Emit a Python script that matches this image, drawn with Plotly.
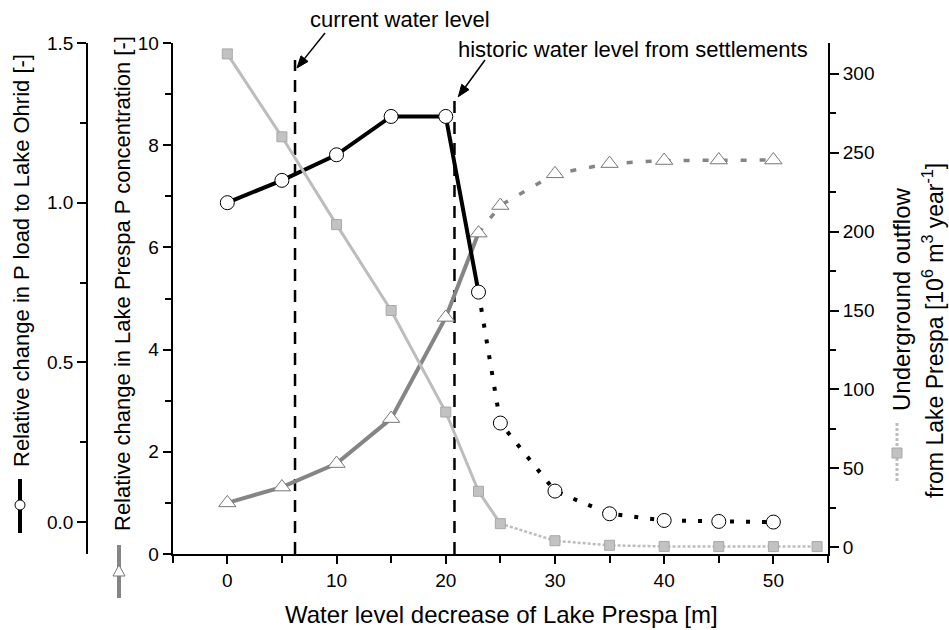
import math
import plotly.graph_objects as go

# ---------------- data ----------------
water_level = [0, 5, 10, 15, 20, 23, 25, 30, 35, 40, 45, 50]
p_load_ohrid = [1.00, 1.07, 1.15, 1.27, 1.27, 0.72, 0.31, 0.097, 0.026, 0.005, 0.002, 0.0]
prespa_p_conc = [1.00, 1.31, 1.77, 2.65, 4.63, 6.28, 6.82, 7.44, 7.64, 7.70, 7.71, 7.71]
water_level_outflow = [0, 5, 10, 15, 20, 23, 25, 30, 35, 40, 45, 50, 54]
underground_outflow = [312.5, 260, 204.4, 150, 85.7, 35.5, 15, 4.2, 1.3, 0.6, 0.5, 0.5, 0.5]

CURRENT_LEVEL = 6.2
HISTORIC_LEVEL = 20.8
SPLIT = 5          # index where lines switch to dotted (x = 23)
SPLIT_OUT = 6      # index for outflow series (x = 25)

FONT = "Liberation Sans, Arial, sans-serif"
TICKF = dict(family=FONT, size=19, color="black")
LEFT_TITLEF = dict(family=FONT, size=22, color="black")
BIG_TITLEF = dict(family=FONT, size=24, color="black")
RIGHT2_TITLEF = dict(family=FONT, size=23, color="black")
NOTEF = dict(family=FONT, size=22, color="black")

BLACK = "black"
MID_GRAY = "#858585"
LIGHT_GRAY = "#bdbdbd"

fig = go.Figure()

# ---- underground outflow (right axis) ----
fig.add_trace(go.Scatter(x=water_level_outflow[:SPLIT_OUT + 1], y=underground_outflow[:SPLIT_OUT + 1],
                         mode="lines", line=dict(color=LIGHT_GRAY, width=3), yaxis="y3", showlegend=False))
fig.add_trace(go.Scatter(x=water_level_outflow[SPLIT_OUT:], y=underground_outflow[SPLIT_OUT:],
                         mode="lines", line=dict(color=LIGHT_GRAY, width=2.5, dash="3px,2px"),
                         yaxis="y3", showlegend=False))
fig.add_trace(go.Scatter(x=water_level_outflow, y=underground_outflow, mode="markers",
                         marker=dict(symbol="square", size=10, color="#c2c2c2",
                                     line=dict(color="#a8a8a8", width=1)),
                         yaxis="y3", showlegend=False))

# ---- Prespa P concentration (inner left axis) ----
fig.add_trace(go.Scatter(x=water_level[:SPLIT + 1], y=prespa_p_conc[:SPLIT + 1], mode="lines",
                         line=dict(color=MID_GRAY, width=4), yaxis="y", showlegend=False))
fig.add_trace(go.Scatter(x=water_level[SPLIT:], y=prespa_p_conc[SPLIT:], mode="lines",
                         line=dict(color=MID_GRAY, width=3.5, dash="6px,13px"), yaxis="y",
                         showlegend=False))
fig.add_trace(go.Scatter(x=water_level, y=prespa_p_conc, mode="markers",
                         marker=dict(symbol="triangle-up", size=15, color="white",
                                     line=dict(color="#777777", width=1)),
                         yaxis="y", showlegend=False))

# ---- P load to Lake Ohrid (outer left axis) ----
fig.add_trace(go.Scatter(x=water_level[:SPLIT + 1], y=p_load_ohrid[:SPLIT + 1], mode="lines",
                         line=dict(color=BLACK, width=4), yaxis="y2", showlegend=False))
fig.add_trace(go.Scatter(x=water_level[SPLIT:], y=p_load_ohrid[SPLIT:], mode="lines",
                         line=dict(color=BLACK, width=4, dash="4px,12px"), yaxis="y2",
                         showlegend=False))
fig.add_trace(go.Scatter(x=water_level, y=p_load_ohrid, mode="markers",
                         marker=dict(symbol="circle", size=14, color="white",
                                     line=dict(color=BLACK, width=1)),
                         yaxis="y2", showlegend=False))

W, H = 949, 630
ML, MR, MT, MB = 87, 121, 43, 76
PW, PH = W - ML - MR, H - MT - MB


def px(xp):
    return (xp - ML) / PW


def py(yp):
    return (H - MB - yp) / PH


axis_common = dict(showline=True, linecolor="black", showgrid=False, zeroline=False,
                   ticks="outside", tickcolor="black", tickfont=TICKF)

fig.update_layout(
    width=W, height=H,
    margin=dict(l=ML, r=MR, t=MT, b=MB),
    paper_bgcolor="white", plot_bgcolor="white",
    xaxis=dict(domain=[px(172.7), 1], range=[-5, 55], tickvals=[0, 10, 20, 30, 40, 50],
               ticklen=8, tickwidth=2, linewidth=2,
               minor=dict(tickvals=[-5, 5, 15, 25, 35, 45, 55], ticklen=7, tickwidth=2,
                          ticks="outside", tickcolor="black"),
               **axis_common),
    yaxis=dict(range=[0, 10], tickvals=[0, 2, 4, 6, 8, 10], ticklen=8, tickwidth=2, linewidth=2,
               minor=dict(tickvals=[1, 3, 5, 7, 9], ticklen=6, tickwidth=2, ticks="outside",
                          tickcolor="black"),
               **axis_common),
    yaxis2=dict(range=[-0.1, 1.5], tickvals=[0, 0.5, 1.0, 1.5], ticktext=["0.0", "0.5", "1.0", "1.5"],
                anchor="free", position=0, overlaying="y", side="left",
                ticklen=9, tickwidth=1.5, linewidth=1.5,
                minor=dict(tickvals=[0.25, 0.75, 1.25], ticklen=6, tickwidth=1.5, ticks="outside",
                           tickcolor="black"),
                **axis_common),
    yaxis3=dict(range=[-4.2, 319.4], tickvals=[0, 50, 100, 150, 200, 250, 300],
                anchor="x", overlaying="y", side="right",
                ticklen=9, tickwidth=2, linewidth=2,
                minor=dict(tickvals=[25, 75, 125, 175, 225, 275], ticklen=6, tickwidth=2,
                           ticks="outside", tickcolor="black"),
                **axis_common),
)


def arrow_shapes(tail, head, length=12, half_w=4.5):
    dx, dy = head[0] - tail[0], head[1] - tail[1]
    n = math.hypot(dx, dy)
    ux, uy = dx / n, dy / n
    bx, by = head[0] - length * ux, head[1] - length * uy
    c1 = (bx - half_w * uy, by + half_w * ux)
    c2 = (bx + half_w * uy, by - half_w * ux)
    path = "M {:.4f},{:.4f} L {:.4f},{:.4f} L {:.4f},{:.4f} Z".format(
        px(head[0]), py(head[1]), px(c1[0]), py(c1[1]), px(c2[0]), py(c2[1]))
    return [
        dict(type="line", xref="paper", yref="paper", x0=px(tail[0]), y0=py(tail[1]),
             x1=px(bx), y1=py(by), line=dict(color="black", width=1.5)),
        dict(type="path", xref="paper", yref="paper", path=path, fillcolor="black",
             line=dict(color="black", width=1)),
    ]


shapes = [
    dict(type="line", xref="x", yref="paper", x0=CURRENT_LEVEL, x1=CURRENT_LEVEL, y0=0, y1=py(60),
         line=dict(color="black", width=2.5, dash="12px,9px"), layer="below"),
    dict(type="line", xref="x", yref="paper", x0=HISTORIC_LEVEL, x1=HISTORIC_LEVEL, y0=0, y1=py(96),
         line=dict(color="black", width=2.5, dash="12px,9px"), layer="below"),
    # legend symbol: P load (outer left title)
    dict(type="line", xref="paper", yref="paper", x0=px(20), x1=px(20), y0=py(479), y1=py(533),
         line=dict(color="black", width=4)),
    dict(type="circle", xref="paper", yref="paper", xsizemode="pixel", ysizemode="pixel",
         xanchor=px(20), yanchor=py(505), x0=-5, x1=5, y0=-5, y1=5,
         fillcolor="white", line=dict(color="black", width=1)),
    # legend symbol: P concentration (inner left title)
    dict(type="line", xref="paper", yref="paper", x0=px(119), x1=px(119), y0=py(545), y1=py(598),
         line=dict(color=MID_GRAY, width=4)),
    dict(type="path", xref="paper", yref="paper", xsizemode="pixel", ysizemode="pixel",
         xanchor=px(119), yanchor=py(571), path="M -6,-5 L 6,-5 L 0,6 Z",
         fillcolor="white", line=dict(color="#777777", width=1)),
    # legend symbol: outflow (right title)
    dict(type="line", xref="paper", yref="paper", x0=px(897), x1=px(897), y0=py(423), y1=py(483),
         line=dict(color=LIGHT_GRAY, width=3, dash="3px,2px")),
    dict(type="rect", xref="paper", yref="paper", xsizemode="pixel", ysizemode="pixel",
         xanchor=px(897), yanchor=py(453), x0=-5, x1=5, y0=-5, y1=5,
         fillcolor="#c2c2c2", line=dict(color="#a8a8a8", width=1)),
]
shapes += arrow_shapes((325, 33), (297, 68))
shapes += arrow_shapes((485, 60), (458.3, 96.7))
fig.update_layout(shapes=shapes)

annotations = [
    dict(text="Water level decrease of Lake Prespa [m]", xref="paper", yref="paper",
         x=px(501), y=py(614), showarrow=False, font=BIG_TITLEF, xanchor="center", yanchor="middle"),
    dict(text="Relative change in P load to Lake Ohrid [-]", xref="paper", yref="paper",
         x=px(21), y=py(261), textangle=-90, showarrow=False, font=LEFT_TITLEF,
         xanchor="center", yanchor="middle"),
    dict(text="Relative change in Lake Prespa P concentration [-]", xref="paper", yref="paper",
         x=px(122), y=py(284), textangle=-90, showarrow=False, font=LEFT_TITLEF,
         xanchor="center", yanchor="middle"),
    dict(text="Underground outflow", xref="paper", yref="paper",
         x=px(901), y=py(300), textangle=-90, showarrow=False, font=BIG_TITLEF,
         xanchor="center", yanchor="middle"),
    dict(text="from Lake Prespa [10<sup>6</sup> m<sup>3</sup> year<sup>-1</sup>]", xref="paper",
         yref="paper", x=px(933), y=py(330), textangle=-90, showarrow=False, font=RIGHT2_TITLEF,
         xanchor="center", yanchor="middle"),
    dict(text="current water level", xref="paper", yref="paper", x=px(400), y=py(20),
         showarrow=False, font=NOTEF, xanchor="center", yanchor="middle"),
    dict(text="historic water level from settlements", xref="paper", yref="paper",
         x=px(633), y=py(49), showarrow=False, font=NOTEF, xanchor="center", yanchor="middle"),
]
fig.update_layout(annotations=annotations)

fig.write_html("out.html")
